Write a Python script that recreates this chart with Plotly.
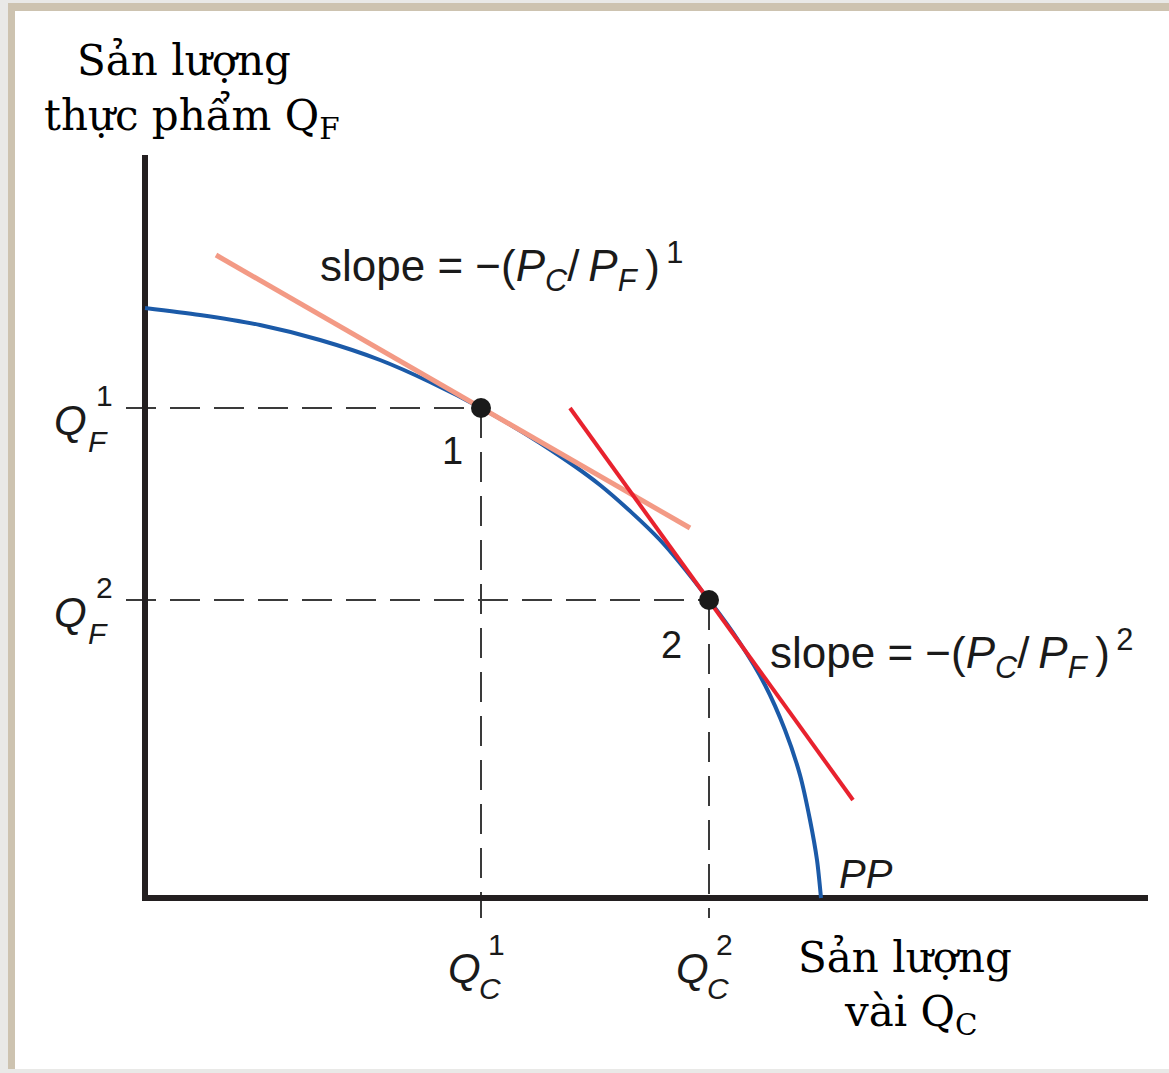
import plotly.graph_objects as go

# ---- data (chart units: 1 unit = 100 px, origin at the axes corner) ----
pp_x = [0.00, 0.55, 1.15, 1.75, 2.35, 2.85, 3.36, 3.95, 4.55, 5.15, 5.64, 5.95, 6.20, 6.40, 6.55, 6.65, 6.72, 6.76]
pp_y = [5.90, 5.83, 5.73, 5.58, 5.38, 5.16, 4.90, 4.55, 4.13, 3.58, 2.98, 2.55, 2.13, 1.68, 1.23, 0.78, 0.38, 0.00]

q_c = [3.36, 5.64]          # Q_C^1, Q_C^2
q_f = [4.90, 2.98]          # Q_F^1, Q_F^2
point_labels = ["1", "2"]

price1_x = [0.71, 5.45]     # slope = -(PC/PF)^1
price1_y = [6.43, 3.70]
price2_x = [4.25, 7.08]     # slope = -(PC/PF)^2
price2_y = [4.90, 0.98]

x_axis_end = 10.03
y_axis_top = 7.43

# ---- helpers for layout placement (pixel -> chart units) ----
OX, OY, S = 145.0, 898.0, 100.0
def X(px):
    return (px - OX) / S
def Y(py):
    return (OY - py) / S

SERIF = "DejaVu Serif"
SANS = "Liberation Sans"
INK = "#231f20"

fig = go.Figure()

# dashed guide lines
for cx, fy in zip(q_c, q_f):
    fig.add_trace(go.Scatter(x=[X(126), cx], y=[fy, fy], mode="lines",
                             line=dict(color="#3a3a3a", width=2, dash="30px,14px"),
                             hoverinfo="skip"))
    fig.add_trace(go.Scatter(x=[cx, cx], y=[fy, Y(918)], mode="lines",
                             line=dict(color="#3a3a3a", width=2, dash="30px,14px"),
                             hoverinfo="skip"))

# axes
fig.add_trace(go.Scatter(x=[0, 0, x_axis_end], y=[y_axis_top, 0, 0], mode="lines",
                         line=dict(color=INK, width=6), hoverinfo="skip"))

# production possibility frontier
fig.add_trace(go.Scatter(x=pp_x, y=pp_y, mode="lines",
                         line=dict(color="#1b5aa8", width=4, shape="spline", smoothing=0.8),
                         hoverinfo="skip"))

# relative price lines
fig.add_trace(go.Scatter(x=price1_x, y=price1_y, mode="lines",
                         line=dict(color="#f39a85", width=5), hoverinfo="skip"))
fig.add_trace(go.Scatter(x=price2_x, y=price2_y, mode="lines",
                         line=dict(color="#e8222e", width=4), hoverinfo="skip"))

# equilibrium points
fig.add_trace(go.Scatter(x=q_c, y=q_f, mode="markers",
                         marker=dict(color="#1a1a1a", size=20), hoverinfo="skip"))

ann = []
def txt(px, py, text, size, family=SANS, xanchor="center", yanchor="middle", color="#1a1a1a"):
    ann.append(dict(x=X(px), y=Y(py), xref="x", yref="y", text=text, showarrow=False,
                    font=dict(family=family, size=size, color=color),
                    xanchor=xanchor, yanchor=yanchor))

# serif axis titles
txt(184, 60, "Sản lượng", 42, SERIF, color="#000")
txt(192, 118, "thực phẩm Q<sub>F</sub>", 42, SERIF, color="#000")
txt(905, 957, "Sản lượng", 42, SERIF, color="#000")
txt(910, 1014, "vài Q<sub>C</sub>", 42, SERIF, color="#000")

# slope labels
TS = "\u2009"
def slope_text(k):
    return ("slope = −(<i>P</i><sub><i>C</i></sub>/" + TS +
            "<i>P</i><sub><i>F</i></sub>" + TS + ")" +
            "<sup>" + TS + k + "</sup>")
txt(318, 266, slope_text("1"), 44, xanchor="left")
txt(768, 653, slope_text("2"), 44, xanchor="left")

# point labels
txt(452, 451, point_labels[0], 38)
txt(671, 645, point_labels[1], 38)
txt(866, 874, "<i>PP</i>", 40)

# Q_F ticks (left)
for py, sup in [(408, "1"), (600, "2")]:
    txt(89, py + 12, "<i>Q</i>", 42, xanchor="right")
    txt(104, py - 13, sup, 30)
    txt(98, py + 33, "<i>F</i>", 30)
# Q_C ticks (bottom)
for px, sup in [(481, "1"), (709, "2")]:
    txt(px + 2, 968, "<i>Q</i>", 42, xanchor="right")
    txt(px + 15, 944, sup, 30)
    txt(px + 9, 988, "<i>C</i>", 30)

shapes = [
    dict(type="rect", xref="x", yref="y", x0=X(8), x1=X(1169), y0=Y(3), y1=Y(1069),
         fillcolor="#cdc3b0", line=dict(width=0), layer="below"),
    dict(type="rect", xref="x", yref="y", x0=X(15), x1=X(1169), y0=Y(11), y1=Y(1069),
         fillcolor="#ffffff", line=dict(width=0), layer="below"),
]

fig.update_layout(
    width=1169, height=1073,
    margin=dict(l=0, r=0, t=0, b=0),
    paper_bgcolor="#e9e9e7", plot_bgcolor="#e9e9e7",
    showlegend=False,
    xaxis=dict(range=[X(0), X(1169)], visible=False, fixedrange=True),
    yaxis=dict(range=[Y(1073), Y(0)], visible=False, fixedrange=True),
    annotations=ann, shapes=shapes,
)

fig.write_html(
    "out.html",
    config={"displayModeBar": False},
    post_script="document.body.style.margin='0';document.body.style.overflow='hidden';"
                "document.body.style.background='#e9e9e7';",
)
